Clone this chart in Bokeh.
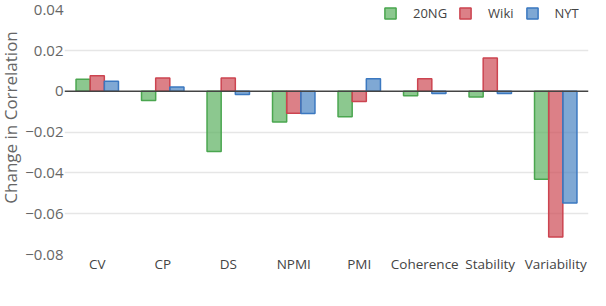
import math
from bokeh.plotting import figure
from bokeh.layouts import row
from bokeh.models import FactorRange, Legend, LegendItem, FixedTicker, Span, Range1d, ColumnDataSource
from bokeh.core.properties import value
from bokeh.transform import dodge
from bokeh.embed import file_html
from bokeh.resources import INLINE

categories = ["CV", "CP", "DS", "NPMI", "PMI", "Coherence", "Stability", "Variability"]
ng20 = [0.0059, -0.0045, -0.0295, -0.0150, -0.0125, -0.0021, -0.0028, -0.0431]
wiki = [0.0076, 0.0066, 0.0066, -0.0107, -0.0050, 0.0062, 0.0164, -0.0714]
nyt = [0.0050, 0.0022, -0.0015, -0.0109, 0.0062, -0.0011, -0.0011, -0.0548]
series_names = ["20NG", "Wiki", "NYT"]
y_ticks = [0.04, 0.02, 0, -0.02, -0.04, -0.06, -0.08]
y_tick_labels = ["0.04", "0.02", "0", "\u22120.02", "\u22120.04", "\u22120.06", "\u22120.08"]
grid_ticks = [0.02, -0.02, -0.04, -0.06]
y_title = "Change in Correlation"

FONT = "Open Sans"
fills = ["#5bb05f", "#cd4a54", "#4883c2"]
lines = ["#4aa64f", "#cc4450", "#3b78c0"]
H = 290
TW = 22

# narrow strip holding the y-axis title
t = figure(width=TW, height=H, x_range=Range1d(0, TW), y_range=Range1d(0, H),
           output_backend="svg", toolbar_location=None,
           min_border_left=0, min_border_right=0, min_border_top=0, min_border_bottom=0)
t.axis.visible = False
t.grid.visible = False
t.outline_line_color = None
t.text(x=[9.5], y=[H - 131], text=[y_title], angle=math.pi / 2, text_align="center",
       text_baseline="middle", text_font=value(FONT), text_font_size="17px", text_color="#666666")

src = ColumnDataSource(dict(cat=categories, ng20=ng20, wiki=wiki, nyt=nyt))

p = figure(width=606 - TW, height=H, x_range=FactorRange(factors=categories),
           y_range=Range1d(-0.08, 0.0426), output_backend="svg", toolbar_location=None,
           min_border_left=62 - TW, min_border_right=18, min_border_top=4, min_border_bottom=36)
p.outline_line_color = None
p.background_fill_color = "white"

bw = 0.216
renderers = []
for i, (col, name) in enumerate(zip(["ng20", "wiki", "nyt"], series_names)):
    r = p.vbar(x=dodge("cat", (i - 1) * bw, range=p.x_range), top=col, bottom=0, width=bw,
               source=src, fill_color=fills[i], fill_alpha=0.7, line_color=lines[i], line_width=1.5)
    renderers.append((name, r))

p.add_layout(Span(location=0, dimension="width", line_color="#444444", line_width=1.5))

# axes
p.yaxis.ticker = FixedTicker(ticks=y_ticks)
p.yaxis.major_label_overrides = {t_: l for t_, l in zip(y_ticks, y_tick_labels)}
p.yaxis.axis_line_color = None
p.yaxis.major_tick_line_color = None
p.yaxis.minor_tick_line_color = None
p.yaxis.major_tick_out = 0
p.yaxis.major_tick_in = 0
p.yaxis.major_label_standoff = 1
p.yaxis.major_label_text_font = FONT
p.yaxis.major_label_text_font_size = "15px"
p.yaxis.major_label_text_color = "#666666"

p.xaxis.axis_line_color = None
p.xaxis.major_tick_line_color = None
p.xaxis.minor_tick_line_color = None
p.xaxis.major_tick_out = 0
p.xaxis.major_tick_in = 0
p.xaxis.major_label_standoff = 0
p.xaxis.major_label_text_font = FONT
p.xaxis.major_label_text_font_size = "13.5px"
p.xaxis.major_label_text_color = "#444444"

p.xgrid.grid_line_color = None
p.ygrid.ticker = FixedTicker(ticks=grid_ticks)
p.ygrid.grid_line_color = "#e6e6e6"
p.ygrid.grid_line_width = 1.5

legend = Legend(items=[LegendItem(label=n, renderers=[r]) for n, r in renderers],
                location=(319, 232), orientation="horizontal",
                glyph_width=14, glyph_height=14, label_standoff=16, spacing=11,
                padding=0, margin=0, border_line_alpha=0, background_fill_alpha=0,
                label_text_font=FONT, label_text_font_size="13px", label_text_color="#444444")
p.add_layout(legend)

layout = row(t, p, spacing=0)
open("out.html", "w").write(file_html(layout, INLINE))
